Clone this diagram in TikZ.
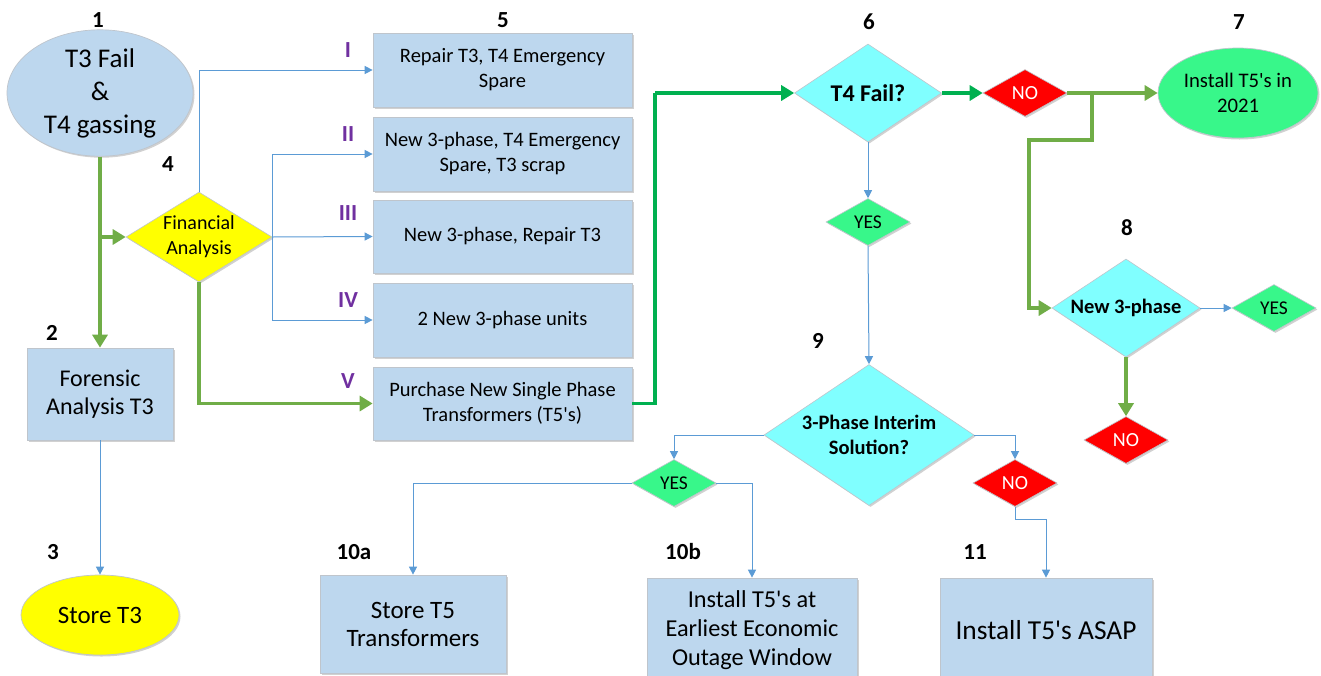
\documentclass[tikz,border=0pt]{standalone}
\usepackage{fontspec}
\setmainfont{Carlito}[Ligatures=TeXOff]
\usetikzlibrary{shapes.geometric,arrows.meta,shadows}
\definecolor{boxblue}{HTML}{BDD7EE}
\definecolor{edgegray}{HTML}{BFC5CC}
\definecolor{ylw}{HTML}{FFFF00}
\definecolor{cyanfill}{HTML}{80FFFF}
\definecolor{yesgreen}{HTML}{38F78A}
\definecolor{nored}{HTML}{FF0000}
\definecolor{lineblue}{HTML}{5B9BD5}
\definecolor{lgreen}{HTML}{70AD47}
\definecolor{bgreen}{HTML}{00B050}
\definecolor{purp}{HTML}{7030A0}
\tikzset{
  shad/.style={drop shadow={shadow xshift=1.5pt,shadow yshift=-1.5pt,opacity=0.18,fill=black}},
  rbox/.style={draw=edgegray,fill=boxblue,line width=0.7pt,align=center,inner sep=0pt,shad},
  oval/.style={ellipse,draw=edgegray,line width=0.7pt,align=center,inner sep=0pt,shad},
  dia/.style={diamond,draw=edgegray,line width=0.6pt,align=center,inner sep=0pt,aspect=1.5,shad},
  yesd/.style={dia,fill=yesgreen,font=\fontsize{19.5}{22}\selectfont,minimum width=84pt,minimum height=47pt},
  nod/.style={dia,fill=nored,text=white,font=\fontsize{20}{22}\selectfont,minimum width=84pt,minimum height=47pt},
  qd/.style={dia,fill=cyanfill,font=\bfseries\fontsize{20.5}{25}\selectfont},
  boxtxt/.style={font=\fontsize{20.5}{25}\selectfont},
  num/.style={font=\bfseries\fontsize{23}{26}\selectfont,inner sep=0pt},
  rom/.style={font=\bfseries\fontsize{23}{26}\selectfont,text=purp,inner sep=0pt},
  bl/.style={draw=lineblue,line width=1pt,-{Triangle[length=8pt,width=8pt]}},
  lg/.style={draw=lgreen,line width=3.5pt,-{Triangle[length=13pt,width=15pt]}},
  bg/.style={draw=bgreen,line width=3.5pt,-{Triangle[length=13pt,width=15pt]}},
  bgn/.style={draw=bgreen,line width=3.5pt},
}
\begin{document}
\begin{tikzpicture}[x=1pt,y=-1pt]
\useasboundingbox (0,0) rectangle (1321,675);
\clip (0,0) rectangle (1321,675);
\fill[white] (0,0) rectangle (1321,675);

% --- left column
\node[oval,fill=boxblue,minimum width=186pt,minimum height=114pt,font=\fontsize{27}{33}\selectfont] (e1) at (100,93) {T3 Fail\\\&\\T4 gassing};
\node[rbox,minimum width=146pt,minimum height=92pt,font=\fontsize{24}{28}\selectfont] (fa) at (100,394) {Forensic\\Analysis T3};
\node[oval,fill=ylw,minimum width=158pt,minimum height=80pt,font=\fontsize{25}{28}\selectfont] (e3) at (100,615) {Store T3};
\node[dia,fill=ylw,aspect=1.6,minimum width=146pt,minimum height=90pt,font=\fontsize{20}{25}\selectfont] (fin) at (199,237) {Financial\\Analysis};

% --- option boxes
\node[rbox,boxtxt,minimum width=259pt,minimum height=74pt] (bI) at (502.5,70) {Repair T3, T4 Emergency\\Spare};
\node[rbox,boxtxt,minimum width=259pt,minimum height=74pt] (bII) at (502.5,154) {New 3-phase, T4 Emergency\\Spare, T3 scrap};
\node[rbox,boxtxt,minimum width=259pt,minimum height=73pt] (bIII) at (502.5,236.5) {New 3-phase, Repair T3};
\node[rbox,boxtxt,minimum width=259pt,minimum height=74pt] (bIV) at (502.5,320) {2 New 3-phase units};
\node[rbox,boxtxt,minimum width=259pt,minimum height=73pt] (bV) at (502.5,403.5) {Purchase New Single Phase\\Transformers (T5's)};

% --- right part
\node[qd,minimum width=147pt,minimum height=98pt,font=\bfseries\fontsize{24}{26}\selectfont] (t4) at (868,93) {T4 Fail?};
\node[nod] (no1) at (1025,93) {NO};
\node[oval,fill=yesgreen,minimum width=160pt,minimum height=90pt,font=\fontsize{20.7}{25}\selectfont] (e7) at (1238,93) {Install T5's in\\2021};
\node[yesd] (yes1) at (868,222) {YES};
\node[qd,minimum width=148pt,minimum height=98pt] (d8) at (1126,308) {New 3-phase};
\node[yesd] (yes2) at (1274,308) {YES};
\node[nod] (no2) at (1126,440) {NO};
\node[qd,minimum width=210pt,minimum height=141pt] (d9) at (869,435) {3-Phase Interim\\Solution?};
\node[yesd] (yes3) at (674,483) {YES};
\node[nod] (no3) at (1015,483) {NO};

% --- bottom boxes
\node[rbox,minimum width=186pt,minimum height=98pt,font=\fontsize{25}{28}\selectfont] (b10a) at (413,624) {Store T5\\Transformers};
\node[rbox,minimum width=210pt,minimum height=104pt,font=\fontsize{24.3}{29}\selectfont] (b10b) at (752,630) {Install T5's at\\Earliest Economic\\Outage Window};
\node[rbox,minimum width=212pt,minimum height=104pt,font=\fontsize{27.4}{30}\selectfont] (b11) at (1046,630) {Install T5's ASAP};

% --- number labels
\node[num] (n1) at (98,20) {1};
\node[num] (n2) at (52,333) {2};
\node[num] (n3) at (53,552) {3};
\node[num] (n4) at (168,164) {4};
\node[num] (n5) at (503,20) {5};
\node[num] (n6) at (869,22) {6};
\node[num] (n7) at (1239,22) {7};
\node[num] (n8) at (1127,228) {8};
\node[num] (n9) at (818,341) {9};
\node[num] (n10a) at (354,552) {10a};
\node[num] (n10b) at (683,552) {10b};
\node[num] (n11) at (975,552) {11};
\node[rom] (rI) at (348,50) {I};
\node[rom] (rII) at (348,134) {II};
\node[rom] (rIII) at (348,213) {III};
\node[rom] (rIV) at (348,300) {IV};
\node[rom] (rV) at (348,381) {V};

% --- coordinates
\coordinate (j1) at (100,237);
\coordinate (k1) at (655,403.5);
\coordinate (k2) at (655,93);
\coordinate (k3) at (1092,93);
\coordinate (k4) at (1092,140);
\coordinate (k5) at (1029,140);
\coordinate (k6) at (1029,308);
\coordinate (k7) at (1015,519);

% --- connectors
\draw[lg] (e1.south) -- (fa.north);
\draw[lg] (j1) -- (fin.west);
\draw[lg] (fin.south) |- (bV.west);
\draw[bl] (fin.north) |- (bI.west);
\draw[bl] (fin.east) |- (bII.west);
\draw[bl] (fin.east) -- (bIII.west);
\draw[bl] (fin.east) |- (bIV.west);
\draw[bl] (fa.south) -- (e3.north);
\draw[bgn] (bV.east) -- (k1) -- (k2);
\draw[bg] (k2) -- (t4.west);
\draw[bg] (t4.east) -- (no1.west);
\draw[lg] (no1.east) -- (e7.west);
\draw[lg] (k3) -- (k4) -- (k5) -- (k6) -- (d8.west);
\draw[bl] (d8.east) -- (yes2.west);
\draw[lg] (d8.south) -- (no2.north);
\draw[bl] (t4.south) -- (yes1.north);
\draw[bl] (yes1.south) -- (d9.north);
\draw[bl] (d9.west) -| (yes3.north);
\draw[bl] (d9.east) -| (no3.north);
\draw[bl] (yes3.west) -| (b10a.north);
\draw[bl] (yes3.east) -| (b10b.north);
\draw[bl] (no3.south) -- (k7) -| (b11.north);
\end{tikzpicture}
\end{document}
